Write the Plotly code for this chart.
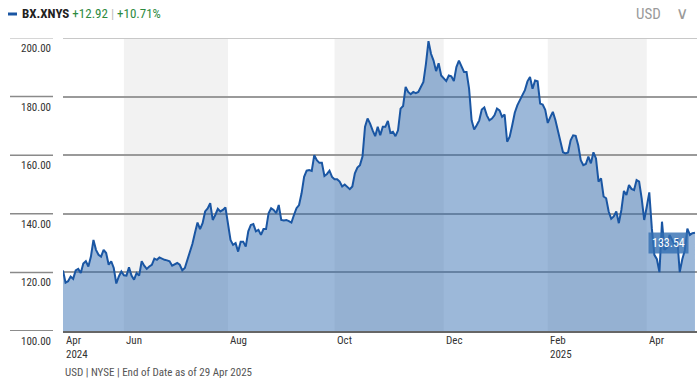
import plotly.graph_objects as go

# ---- data (trading-day index 0..249, 29 Apr 2024 .. 29 Apr 2025) ----
prices = [
    120.62, 116.5, 117.0, 118.6, 117.8, 120.7, 121.2, 119.8, 123.0, 123.8,
    122.0, 125.4, 131.1, 127.7, 126.0, 125.4, 127.7, 126.6, 122.6, 123.8,
    121.5, 116.2, 118.6, 120.3, 119.0, 118.9, 121.7, 118.9, 117.5, 119.8,
    118.9, 123.8, 122.3, 121.2, 122.0, 122.6, 124.7, 124.3, 125.1, 124.6,
    124.3, 124.1, 123.8, 122.3, 122.8, 123.2, 122.6, 120.7, 121.5, 124.3,
    127.7, 129.8, 133.5, 137.0, 134.8, 136.8, 140.8, 141.8, 143.6, 137.9,
    139.6, 141.7, 140.8, 141.3, 142.2, 136.8, 131.1, 129.4, 130.0, 127.1,
    130.5, 130.5, 128.8, 134.0, 136.2, 136.5, 134.0, 134.5, 132.8, 134.8,
    134.8, 140.2, 141.9, 141.3, 140.2, 143.0, 137.9, 137.7, 137.9, 137.5,
    137.0, 139.6, 141.9, 143.0, 147.0, 152.6, 154.7, 154.9, 154.6, 160.0,
    158.3, 157.4, 157.4, 152.9, 153.6, 154.7, 152.6, 151.8, 151.8, 151.0,
    149.3, 150.0, 149.3, 148.4, 149.3, 153.8, 155.8, 156.6, 159.5, 169.7,
    172.5, 170.8, 168.5, 166.5, 169.7, 166.8, 169.7, 169.7, 171.7, 167.6,
    168.0, 166.5, 168.5, 175.9, 176.8, 183.3, 181.6, 180.8, 181.6, 181.2,
    181.6, 183.1, 185.0, 191.2, 198.9, 194.6, 192.3, 188.7, 191.4, 187.2,
    186.1, 185.3, 187.2, 186.9, 185.3, 190.1, 192.3, 190.3, 188.4, 188.4,
    182.7, 171.9, 168.8, 170.2, 171.9, 175.6, 176.3, 173.6, 171.9, 172.5,
    173.6, 175.9, 175.3, 173.1, 173.9, 164.6, 166.3, 170.2, 174.5, 177.0,
    179.0, 180.5, 182.2, 185.2, 186.7, 182.7, 185.5, 185.2, 177.6, 177.3,
    175.5, 171.0, 173.0, 174.8, 172.0, 168.5, 164.6, 161.0, 160.6, 160.9,
    165.1, 166.8, 166.6, 163.4, 158.3, 156.6, 157.0, 159.5, 157.2, 161.0,
    158.9, 151.0, 152.1, 145.9, 145.3, 140.8, 138.3, 139.1, 140.8, 136.8,
    141.3, 147.8, 146.4, 149.8, 148.5, 148.1, 151.5, 151.0, 145.3, 137.9,
    142.4, 147.3, 135.1, 126.0, 124.5, 120.1, 137.3, 127.7, 128.5, 132.8,
    131.1, 129.4, 131.7, 120.1, 124.5, 127.5, 134.9, 132.8, 133.4, 133.54,
]
idx = list(range(len(prices)))

# month ticks (trading-day index of first session of month)
month_idx = [0, 24, 65, 107, 150, 191, 230]
month_lbl = ["Apr<br>2024", "Jun", "Aug", "Oct", "Dec", "Feb<br>2025", "Apr"]
shaded = [(24, 65), (107, 150), (191, 230)]

y_levels = [100, 120, 140, 160, 180, 200]
y_lbls = ["100.00", "120.00", "140.00", "160.00", "180.00", "200.00"]

ticker = "BX.XNYS"
chg_abs = "+12.92"
chg_pct = "+10.71%"
last_val = "133.54"
footer = "USD | NYSE | End of Date as of 29 Apr 2025"

FONT = "Liberation Sans Narrow, Roboto Condensed, Arial Narrow, Roboto, sans-serif"

L, R, T, B = 63, 3, 38, 51
W, H = 700, 382
pw = W - L - R
def px2paper(px):
    return (px - L) / pw
ph = H - T - B
def py2paper(py):
    return (H - B - py) / ph

fig = go.Figure()
fig.add_trace(go.Scatter(
    x=idx, y=prices, mode="lines", fill="tozeroy",
    line=dict(color="#1a56a3", width=2),
    fillcolor="rgba(45,105,175,0.47)",
    hoverinfo="skip", showlegend=False,
))

shapes = []
for a, b in shaded:
    shapes.append(dict(type="rect", xref="x", yref="paper", x0=a, x1=b, y0=0, y1=1,
                       fillcolor="#f2f2f2", line=dict(width=0), layer="below"))
# top line
shapes.append(dict(type="line", xref="paper", yref="y", x0=0, x1=1, y0=200, y1=200,
                   line=dict(color="#c8c8c8", width=2)))
# label-area segments
for v in y_levels:
    col = "#c8c8c8" if v == 200 else ("#666666" if v == 100 else "#8a8a8a")
    shapes.append(dict(type="line", xref="paper", yref="y", x0=px2paper(10), x1=px2paper(53),
                       y0=v, y1=v, line=dict(color=col, width=1.5)))
# legend dash
shapes.append(dict(type="line", xref="paper", yref="paper", x0=px2paper(8), x1=px2paper(17),
                   y0=py2paper(14), y1=py2paper(14), line=dict(color="#1a56a3", width=3)))

ann = []
for v, t in zip(y_levels, y_lbls):
    ann.append(dict(xref="paper", yref="y", x=px2paper(53), y=v, xanchor="right", yanchor="top",
                    yshift=-2, text=t, showarrow=False, font=dict(family=FONT, size=11, color="#333333")))
for i, t in zip(month_idx, month_lbl):
    ann.append(dict(xref="x", yref="paper", x=i, y=0, xanchor="left", yanchor="top", yshift=-1,
                    xshift=0 if i else 1, text=t, showarrow=False, align="left",
                    font=dict(family=FONT, size=11, color="#333333")))
ann.append(dict(xref="paper", yref="paper", x=0, y=0, xanchor="left", yanchor="top", yshift=-33,
                text=footer, showarrow=False, font=dict(family=FONT, size=11, color="#555555")))
ann.append(dict(xref="paper", yref="paper", x=px2paper(20), y=py2paper(14), xanchor="left",
                yanchor="middle", showarrow=False,
                text=("<b>" + ticker + "</b> <span style='color:#2d8a3e'>" + chg_abs +
                      "</span><span style='color:#bbbbbb'> | </span><span style='color:#2d8a3e'>" +
                      chg_pct + "</span>"),
                font=dict(family=FONT, size=13, color="#222222")))
ann.append(dict(xref="paper", yref="paper", x=px2paper(663), y=py2paper(14), xanchor="right",
                yanchor="middle", showarrow=False, text="USD",
                font=dict(family=FONT, size=15, color="#9a9a9a")))
ann.append(dict(xref="paper", yref="paper", x=px2paper(690), y=py2paper(13), xanchor="right",
                yanchor="middle", showarrow=False, text="∨",
                font=dict(family="DejaVu Sans, sans-serif", size=17, color="#9a9a9a")))
ann.append(dict(xref="x", yref="y", x=idx[-1], y=prices[-1], xanchor="right", yanchor="top",
                xshift=-6, yshift=1, text=last_val, showarrow=False,
                bgcolor="rgba(50,110,178,0.8)", borderpad=3,
                font=dict(family=FONT, size=12, color="#ffffff")))

fig.update_layout(
    width=W, height=H, margin=dict(l=L, r=R, t=T, b=B),
    paper_bgcolor="white", plot_bgcolor="white",
    shapes=shapes, annotations=ann, showlegend=False,
    xaxis=dict(range=[0, 249.8], showgrid=False, zeroline=False, showticklabels=False,
               showline=True, linecolor="#666666", linewidth=2, ticks="", fixedrange=True),
    yaxis=dict(range=[100, 200], tickvals=[120, 140, 160, 180], showticklabels=False,
               showgrid=True, gridcolor="#9a9a9a", gridwidth=1.5, zeroline=False, ticks="",
               fixedrange=True),
)
fig.write_html("out.html", config={"displayModeBar": False},
               post_script="document.body.style.margin='0';document.body.style.overflow='hidden';")
